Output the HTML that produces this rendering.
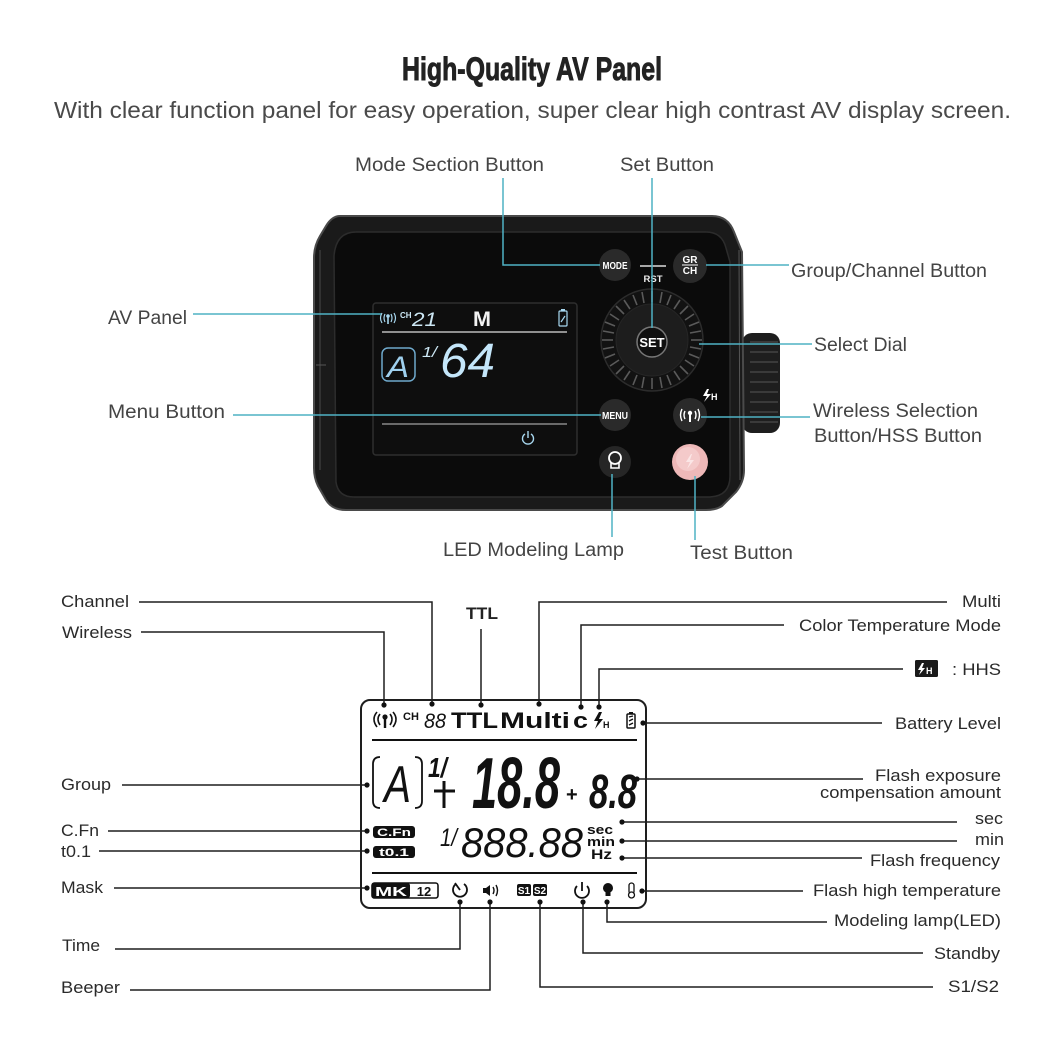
<!DOCTYPE html>
<html><head><meta charset="utf-8"><style>
html,body{margin:0;padding:0;background:#fff;}
svg{display:block;}
.lab{font-family:"Liberation Sans",Arial,sans-serif;fill:#2a2a2a;font-size:17px;}
.tl{font-family:"Liberation Sans",Arial,sans-serif;fill:#444;font-size:19px;}
.seg{font-family:"Liberation Sans Narrow","Liberation Sans",sans-serif;font-style:italic;}
.b{font-family:"Liberation Sans",Arial,sans-serif;font-weight:bold;}
</style></head><body>
<svg width="1062" height="1049" viewBox="0 0 1062 1049" xmlns="http://www.w3.org/2000/svg">
<rect width="1062" height="1049" fill="#fff"/>

<!-- Title -->
<text x="402" y="80" font-family="'Liberation Sans Narrow','Liberation Sans',sans-serif" font-weight="bold" font-size="32" fill="#222" stroke="#222" stroke-width="0.9" textLength="260" lengthAdjust="spacingAndGlyphs">High-Quality AV Panel</text>
<text x="54" y="118" font-family="'Liberation Sans',sans-serif" font-size="23" fill="#4a4a4a" textLength="957" lengthAdjust="spacingAndGlyphs">With clear function panel for easy operation, super clear high contrast AV display screen.</text>

<!-- ============ DEVICE ============ -->
<g>
  <!-- side knob -->
  <rect x="742" y="333" width="38" height="100" rx="10" fill="#1e1e1e"/>
  <g stroke="#3a3a3a" stroke-width="2">
    <line x1="750" y1="342" x2="778" y2="342"/><line x1="750" y1="352" x2="778" y2="352"/>
    <line x1="750" y1="362" x2="778" y2="362"/><line x1="750" y1="372" x2="778" y2="372"/>
    <line x1="750" y1="382" x2="778" y2="382"/><line x1="750" y1="392" x2="778" y2="392"/>
    <line x1="750" y1="402" x2="778" y2="402"/><line x1="750" y1="412" x2="778" y2="412"/>
    <line x1="750" y1="422" x2="778" y2="422"/>
  </g>
  <!-- body -->
  <path d="M340,216 L712,216 Q728,216 734,232 L742,252 L744,470 Q744,482 736,492 L722,506 Q716,510 706,510 L346,510 Q332,510 326,500 L318,486 Q314,478 314,468 L314,258 Q314,246 320,236 L326,226 Q332,216 340,216 Z" fill="#1a1a1a" stroke="#4a4a4a" stroke-width="2"/>
  <path d="M356,232 L706,232 Q722,232 726,248 L730,262 L730,476 Q730,496 710,497 L354,497 Q338,497 336,482 L334,256 Q336,232 356,232 Z" fill="#0b0b0b" stroke="#2c2c2c" stroke-width="1.5"/>
  <line x1="739" y1="250" x2="740" y2="480" stroke="#555" stroke-width="1"/>
  <line x1="320" y1="250" x2="320" y2="470" stroke="#3a3a3a" stroke-width="1.5"/>
  <line x1="316" y1="365" x2="326" y2="365" stroke="#555" stroke-width="1"/>

  <!-- screen -->
  <rect x="373" y="303" width="204" height="152" rx="3" fill="#0e0e0e" stroke="#2e2e2e" stroke-width="1.5"/>
  <g stroke="#a8d8f0" stroke-width="1.2" fill="none">
    <path d="M382,313 Q379,318 382,323"/><path d="M385,314 Q383,318 385,322"/>
    <path d="M394,313 Q397,318 394,323"/><path d="M391,314 Q393,318 391,322"/>
    <line x1="388" y1="317" x2="388" y2="324" stroke-width="1.6"/>
  </g>
  <circle cx="388" cy="316" r="1.8" fill="#a8d8f0"/>
  <text x="400" y="318" class="b" font-size="8" fill="#cde8f5">CH</text>
  <text x="412" y="326" class="seg" font-size="19" fill="#cde8f5" textLength="25" lengthAdjust="spacingAndGlyphs">21</text>
  <text x="473" y="326" class="b" font-size="21" fill="#f2f2f2" textLength="18" lengthAdjust="spacingAndGlyphs">M</text>
  <rect x="559" y="311" width="8" height="15" rx="1" fill="none" stroke="#a8d8f0" stroke-width="1.2"/>
  <rect x="561" y="309" width="4" height="2" fill="#a8d8f0"/>
  <line x1="561" y1="322" x2="565" y2="316" stroke="#a8d8f0" stroke-width="1.2"/>
  <line x1="382" y1="332" x2="567" y2="332" stroke="#bbb" stroke-width="1.5"/>
  <rect x="382" y="348" width="33" height="33" rx="6" fill="none" stroke="#6fa9cc" stroke-width="1.5"/>
  <text x="387" y="377" class="seg" font-size="30" fill="#9fd0ee" textLength="22" lengthAdjust="spacingAndGlyphs">A</text>
  <text x="422" y="357" class="seg" font-size="15" fill="#cde8f5" textLength="15" lengthAdjust="spacingAndGlyphs">1/</text>
  <text x="440" y="377" class="seg" font-size="48" fill="#c4e6fa" textLength="55" lengthAdjust="spacingAndGlyphs">64</text>
  <line x1="382" y1="424" x2="567" y2="424" stroke="#888" stroke-width="1.5"/>
  <path d="M525,434 A5.5,5.5 0 1 0 531,434" fill="none" stroke="#a8d8f0" stroke-width="1.4"/>
  <line x1="528" y1="431" x2="528" y2="438" stroke="#a8d8f0" stroke-width="1.4"/>

  <!-- Dial -->
  <circle cx="652" cy="340" r="51" fill="#121212" stroke="#2c2c2c" stroke-width="1.5"/>
  <g stroke="#5a5a5a" stroke-width="1.6">
    <line x1="652" y1="291" x2="652" y2="302"/><line x1="662" y1="292" x2="660" y2="303"/><line x1="671" y1="295" x2="667" y2="305"/><line x1="680" y1="300" x2="674" y2="309"/><line x1="688" y1="306" x2="680" y2="314"/><line x1="694" y1="314" x2="685" y2="320"/><line x1="699" y1="322" x2="689" y2="326"/><line x1="701" y1="331" x2="690" y2="333"/><line x1="702" y1="340" x2="691" y2="340"/><line x1="701" y1="349" x2="690" y2="347"/><line x1="699" y1="358" x2="689" y2="354"/><line x1="694" y1="366" x2="685" y2="360"/><line x1="688" y1="374" x2="680" y2="366"/><line x1="680" y1="380" x2="674" y2="371"/><line x1="671" y1="385" x2="667" y2="375"/><line x1="662" y1="388" x2="660" y2="377"/><line x1="652" y1="389" x2="652" y2="378"/><line x1="642" y1="388" x2="644" y2="377"/><line x1="633" y1="385" x2="637" y2="375"/><line x1="624" y1="380" x2="630" y2="371"/><line x1="616" y1="374" x2="624" y2="366"/><line x1="610" y1="366" x2="619" y2="360"/><line x1="605" y1="358" x2="615" y2="354"/><line x1="603" y1="349" x2="614" y2="347"/><line x1="602" y1="340" x2="613" y2="340"/><line x1="603" y1="331" x2="614" y2="333"/><line x1="605" y1="322" x2="615" y2="326"/><line x1="610" y1="314" x2="619" y2="320"/><line x1="616" y1="306" x2="624" y2="314"/><line x1="624" y1="300" x2="630" y2="309"/><line x1="633" y1="295" x2="637" y2="305"/><line x1="642" y1="292" x2="644" y2="303"/>
  </g>
  <circle cx="652" cy="340" r="36" fill="#1d1d1d" stroke="#262626"/>
  <circle cx="652" cy="342" r="15" fill="#101010" stroke="#777" stroke-width="1.5"/>
  <text x="652" y="347" class="b" font-size="13" fill="#fff" text-anchor="middle">SET</text>

  <!-- buttons -->
  <circle cx="615" cy="265" r="16" fill="#2a2a2a"/>
  <text x="615" y="269" class="b" font-size="10" fill="#fff" text-anchor="middle" textLength="25" lengthAdjust="spacingAndGlyphs">MODE</text>
  <circle cx="690" cy="266" r="17" fill="#2a2a2a"/>
  <text x="690" y="263" class="b" font-size="10" fill="#fff" text-anchor="middle">GR</text>
  <line x1="682" y1="265" x2="698" y2="265" stroke="#fff" stroke-width="1"/>
  <text x="690" y="274" class="b" font-size="10" fill="#fff" text-anchor="middle">CH</text>
  <line x1="640" y1="266" x2="666" y2="266" stroke="#ddd" stroke-width="1.5"/>
  <text x="653" y="282" class="b" font-size="9.5" fill="#eee" text-anchor="middle">RST</text>

  <circle cx="615" cy="415" r="16" fill="#2a2a2a"/>
  <text x="615" y="419" class="b" font-size="10" fill="#fff" text-anchor="middle" textLength="26" lengthAdjust="spacingAndGlyphs">MENU</text>
  <circle cx="690" cy="415" r="17" fill="#2a2a2a"/>
  <g stroke="#fff" stroke-width="1.4" fill="none">
    <path d="M682,409 Q679,415 682,421"/><path d="M685,411 Q683,415 685,419"/>
    <path d="M698,409 Q701,415 698,421"/><path d="M695,411 Q697,415 695,419"/>
    <line x1="690" y1="414" x2="690" y2="422" stroke-width="2"/>
  </g>
  <circle cx="690" cy="413" r="2.2" fill="#fff"/>
  <path d="M707,389 L703,396 L707,396 L704,402 L711,394 L707,394 L709,389 Z" fill="#fff"/>
  <text x="711" y="400" class="b" font-size="9" fill="#fff">H</text>

  <circle cx="615" cy="462" r="16" fill="#262626"/>
  <circle cx="615" cy="458" r="6" fill="none" stroke="#fff" stroke-width="1.8"/>
  <path d="M611,463 L611,468 L619,468 L619,463" fill="none" stroke="#fff" stroke-width="1.6"/>
  <circle cx="690" cy="462" r="18" fill="#eeb8b8"/>
  <circle cx="688" cy="459" r="12" fill="#f4caca"/>
  <path d="M691,454 L686,462 L690,462 L687,469 L694,460 L690,460 L692,454 Z" fill="#fbe6e6"/>
</g>

<!-- teal connectors -->
<g stroke="#4fb2c4" stroke-width="1.5" fill="none">
  <polyline points="503,178 503,265 600,265"/>
  <line x1="652" y1="178" x2="652" y2="328"/>
  <line x1="706" y1="265" x2="789" y2="265"/>
  <line x1="193" y1="314" x2="381" y2="314"/>
  <line x1="699" y1="344" x2="812" y2="344"/>
  <line x1="233" y1="415" x2="601" y2="415"/>
  <line x1="701" y1="417" x2="810" y2="417"/>
  <line x1="612" y1="474" x2="612" y2="537"/>
  <line x1="695" y1="476" x2="695" y2="540"/>
</g>

<!-- top labels -->
<text x="355" y="171" class="tl" textLength="189" lengthAdjust="spacingAndGlyphs">Mode Section Button</text>
<text x="620" y="171" class="tl" textLength="94" lengthAdjust="spacingAndGlyphs">Set Button</text>
<text x="791" y="277" class="tl" textLength="196" lengthAdjust="spacingAndGlyphs">Group/Channel Button</text>
<text x="108" y="324" class="tl" textLength="79" lengthAdjust="spacingAndGlyphs">AV Panel</text>
<text x="814" y="351" class="tl" textLength="93" lengthAdjust="spacingAndGlyphs">Select Dial</text>
<text x="108" y="418" class="tl" textLength="117" lengthAdjust="spacingAndGlyphs">Menu Button</text>
<text x="813" y="417" class="tl" textLength="165" lengthAdjust="spacingAndGlyphs">Wireless Selection</text>
<text x="814" y="442" class="tl" textLength="168" lengthAdjust="spacingAndGlyphs">Button/HSS Button</text>
<text x="443" y="556" class="tl" textLength="181" lengthAdjust="spacingAndGlyphs">LED Modeling Lamp</text>
<text x="690" y="559" class="tl" textLength="103" lengthAdjust="spacingAndGlyphs">Test Button</text>

<!-- ============ LCD DIAGRAM ============ -->
<rect x="361" y="700" width="285" height="208" rx="9" fill="#fff" stroke="#1e1e1e" stroke-width="2"/>

<!-- top row -->
<g stroke="#111" stroke-width="1.6" fill="none">
  <path d="M377,712 Q371,719 377,727"/><path d="M380,714 Q376,719 380,725"/>
  <path d="M393,712 Q399,719 393,727"/><path d="M390,714 Q394,719 390,725"/>
  <line x1="385" y1="718" x2="385" y2="728" stroke-width="2.4"/>
</g>
<circle cx="385" cy="717" r="2.6" fill="#111"/>
<text x="403" y="720" class="b" font-size="11" fill="#111">CH</text>
<text x="424" y="728" class="seg" font-size="21" fill="#111" textLength="22" lengthAdjust="spacingAndGlyphs">88</text>
<text x="451" y="728" class="b" font-size="22" fill="#111" textLength="47" lengthAdjust="spacingAndGlyphs">TTL</text>
<text x="500" y="728" class="b" font-size="22" fill="#111" textLength="70" lengthAdjust="spacingAndGlyphs">Multi</text>
<text x="573" y="728" class="b" font-size="22" fill="#111" textLength="15" lengthAdjust="spacingAndGlyphs">c</text>
<path d="M599,712 L594,721 L598,721 L595,729 L603,719 L599,719 L602,712 Z" fill="#111"/>
<text x="603" y="728" class="b" font-size="9" fill="#111">H</text>
<rect x="627" y="714" width="8" height="14" rx="1" fill="none" stroke="#111" stroke-width="1.5"/>
<rect x="629" y="712" width="4" height="2" fill="#111"/>
<path d="M629,717 L633,716 M629,721 L633,719 M629,725 L633,723" stroke="#111" stroke-width="1.4"/>
<line x1="372" y1="740" x2="637" y2="740" stroke="#111" stroke-width="2"/>

<!-- middle -->
<path d="M380,757 Q373,757 373,764 L373,801 Q373,808 380,808" fill="none" stroke="#111" stroke-width="1.8"/>
<path d="M415,757 Q422,757 422,764 L422,801 Q422,808 415,808" fill="none" stroke="#111" stroke-width="1.8"/>
<text x="384" y="802" class="seg" font-size="52" fill="#111" textLength="27" lengthAdjust="spacingAndGlyphs">A</text>
<text x="428" y="777" class="seg" font-size="28" font-weight="bold" fill="#111" textLength="19" lengthAdjust="spacingAndGlyphs">1/</text>
<line x1="434" y1="791" x2="455" y2="791" stroke="#111" stroke-width="3"/>
<line x1="444" y1="781" x2="444" y2="808" stroke="#111" stroke-width="3"/>
<text x="472" y="808" class="seg" font-size="72" font-weight="bold" fill="#111" textLength="88" lengthAdjust="spacingAndGlyphs">18.8</text>
<text x="566" y="801" class="b" font-size="20" fill="#111">+</text>
<text x="589" y="808" class="seg" font-size="48" font-weight="bold" fill="#111" textLength="48" lengthAdjust="spacingAndGlyphs">8.8</text>

<rect x="373" y="826" width="42" height="12" rx="3" fill="#111"/>
<text x="394" y="836" class="b" font-size="11" fill="#fff" text-anchor="middle" textLength="34" lengthAdjust="spacingAndGlyphs">C.Fn</text>
<rect x="373" y="846" width="42" height="12" rx="3" fill="#111"/>
<text x="394" y="856" class="b" font-size="11" fill="#fff" text-anchor="middle" textLength="30" lengthAdjust="spacingAndGlyphs">t0.1</text>
<text x="440" y="846" class="seg" font-size="25" fill="#111" textLength="17" lengthAdjust="spacingAndGlyphs">1/</text>
<text x="461" y="857" class="seg" font-size="42" fill="#111" textLength="122" lengthAdjust="spacingAndGlyphs">888.88</text>
<text x="587" y="834" class="b" font-size="13" fill="#111" textLength="26" lengthAdjust="spacingAndGlyphs">sec</text>
<text x="587" y="846" class="b" font-size="13" fill="#111" textLength="28" lengthAdjust="spacingAndGlyphs">min</text>
<text x="591" y="859" class="b" font-size="14" fill="#111" textLength="21" lengthAdjust="spacingAndGlyphs">Hz</text>
<line x1="372" y1="873" x2="637" y2="873" stroke="#111" stroke-width="2"/>

<!-- bottom row -->
<rect x="372" y="883" width="66" height="15" rx="2.5" fill="#fff" stroke="#111" stroke-width="1.6"/>
<rect x="372" y="883" width="38" height="15" rx="2.5" fill="#111"/>
<text x="391" y="896" class="b" font-size="13" fill="#fff" text-anchor="middle" textLength="32" lengthAdjust="spacingAndGlyphs">MK</text>
<text x="424" y="896" class="b" font-size="13" fill="#111" text-anchor="middle">12</text>
<path d="M456,884 A7,7 0 1 0 464,884" fill="none" stroke="#111" stroke-width="1.8"/>
<line x1="455" y1="883" x2="460" y2="890" stroke="#111" stroke-width="1.8"/>
<polygon points="483,888 486,888 490,885 490,896 486,893 483,893" fill="#111"/>
<path d="M493,887 Q495,890.5 493,894 M496,885 Q499,890.5 496,896" fill="none" stroke="#111" stroke-width="1.4"/>
<rect x="517" y="884" width="14" height="12" rx="2" fill="#111"/>
<text x="524" y="894" class="b" font-size="10" fill="#fff" text-anchor="middle">S1</text>
<rect x="533" y="884" width="14" height="12" rx="2" fill="#111"/>
<text x="540" y="894" class="b" font-size="10" fill="#fff" text-anchor="middle">S2</text>
<path d="M577,886 A7,7 0 1 0 587,886" fill="none" stroke="#111" stroke-width="1.8"/>
<line x1="582" y1="882" x2="582" y2="891" stroke="#111" stroke-width="1.8"/>
<circle cx="608" cy="888" r="5" fill="#111"/>
<rect x="605.5" y="891" width="5" height="5" fill="#111"/>
<rect x="629" y="883" width="5" height="11" rx="2.5" fill="none" stroke="#111" stroke-width="1.3"/>
<circle cx="631.5" cy="895" r="3" fill="#fff" stroke="#111" stroke-width="1.3"/>

<!-- black connectors -->
<g stroke="#1e1e1e" stroke-width="1.5" fill="none">
  <polyline points="139,602 432,602 432,704"/>
  <polyline points="141,632 384,632 384,705"/>
  <line x1="481" y1="629" x2="481" y2="705"/>
  <polyline points="539,704 539,602 947,602"/>
  <polyline points="581,707 581,625 784,625"/>
  <polyline points="599,707 599,669 903,669"/>
  <line x1="643" y1="723" x2="882" y2="723"/>
  <line x1="122" y1="785" x2="367" y2="785"/>
  <line x1="108" y1="831" x2="367" y2="831"/>
  <line x1="99" y1="851" x2="367" y2="851"/>
  <line x1="114" y1="888" x2="367" y2="888"/>
  <line x1="637" y1="779" x2="863" y2="779"/>
  <line x1="622" y1="822" x2="957" y2="822"/>
  <line x1="622" y1="841" x2="957" y2="841"/>
  <line x1="622" y1="858" x2="862" y2="858"/>
  <line x1="642" y1="891" x2="803" y2="891"/>
  <polyline points="115,949 460,949 460,902"/>
  <polyline points="130,990 490,990 490,902"/>
  <polyline points="540,902 540,987 933,987"/>
  <polyline points="583,902 583,953 923,953"/>
  <polyline points="607,902 607,922 827,922"/>
</g>
<g fill="#111">
  <circle cx="384" cy="705" r="2.6"/><circle cx="432" cy="704" r="2.6"/><circle cx="481" cy="705" r="2.6"/>
  <circle cx="539" cy="704" r="2.6"/><circle cx="581" cy="707" r="2.6"/><circle cx="599" cy="707" r="2.6"/>
  <circle cx="643" cy="723" r="2.6"/>
  <circle cx="367" cy="785" r="2.6"/><circle cx="367" cy="831" r="2.6"/><circle cx="367" cy="851" r="2.6"/><circle cx="367" cy="888" r="2.6"/>
  <circle cx="637" cy="779" r="2.6"/><circle cx="622" cy="822" r="2.6"/><circle cx="622" cy="841" r="2.6"/><circle cx="622" cy="858" r="2.6"/>
  <circle cx="642" cy="891" r="2.6"/>
  <circle cx="460" cy="902" r="2.6"/><circle cx="490" cy="902" r="2.6"/><circle cx="540" cy="902" r="2.6"/><circle cx="583" cy="902" r="2.6"/><circle cx="607" cy="902" r="2.6"/>
</g>

<!-- lower labels -->
<text x="61" y="607" class="lab" textLength="68" lengthAdjust="spacingAndGlyphs">Channel</text>
<text x="62" y="638" class="lab" textLength="70" lengthAdjust="spacingAndGlyphs">Wireless</text>
<text x="466" y="619" class="b" font-size="17" fill="#222" textLength="32" lengthAdjust="spacingAndGlyphs">TTL</text>
<text x="962" y="607" class="lab" textLength="39" lengthAdjust="spacingAndGlyphs">Multi</text>
<text x="799" y="631" class="lab" textLength="202" lengthAdjust="spacingAndGlyphs">Color Temperature Mode</text>
<rect x="915" y="660" width="23" height="17" rx="1.5" fill="#1a1a1a"/>
<path d="M922,663 L918,670 L921,670 L919,675 L925,668 L922,668 L924,663 Z" fill="#fff"/>
<text x="926" y="674" class="b" font-size="9" fill="#fff">H</text>
<text x="952" y="675" class="lab" textLength="49" lengthAdjust="spacingAndGlyphs">: HHS</text>
<text x="895" y="729" class="lab" textLength="106" lengthAdjust="spacingAndGlyphs">Battery Level</text>
<text x="61" y="790" class="lab" textLength="50" lengthAdjust="spacingAndGlyphs">Group</text>
<text x="61" y="836" class="lab" textLength="38" lengthAdjust="spacingAndGlyphs">C.Fn</text>
<text x="61" y="857" class="lab" textLength="30" lengthAdjust="spacingAndGlyphs">t0.1</text>
<text x="61" y="893" class="lab" textLength="42" lengthAdjust="spacingAndGlyphs">Mask</text>
<text x="62" y="951" class="lab" textLength="38" lengthAdjust="spacingAndGlyphs">Time</text>
<text x="61" y="993" class="lab" textLength="59" lengthAdjust="spacingAndGlyphs">Beeper</text>
<text x="875" y="781" class="lab" textLength="126" lengthAdjust="spacingAndGlyphs">Flash exposure</text>
<text x="820" y="798" class="lab" textLength="181" lengthAdjust="spacingAndGlyphs">compensation amount</text>
<text x="975" y="824" class="lab" textLength="28" lengthAdjust="spacingAndGlyphs">sec</text>
<text x="975" y="845" class="lab" textLength="29" lengthAdjust="spacingAndGlyphs">min</text>
<text x="870" y="866" class="lab" textLength="130" lengthAdjust="spacingAndGlyphs">Flash frequency</text>
<text x="813" y="896" class="lab" textLength="188" lengthAdjust="spacingAndGlyphs">Flash high temperature</text>
<text x="834" y="926" class="lab" textLength="167" lengthAdjust="spacingAndGlyphs">Modeling lamp(LED)</text>
<text x="934" y="959" class="lab" textLength="66" lengthAdjust="spacingAndGlyphs">Standby</text>
<text x="948" y="992" class="lab" textLength="51" lengthAdjust="spacingAndGlyphs">S1/S2</text>
</svg>
</body></html>
